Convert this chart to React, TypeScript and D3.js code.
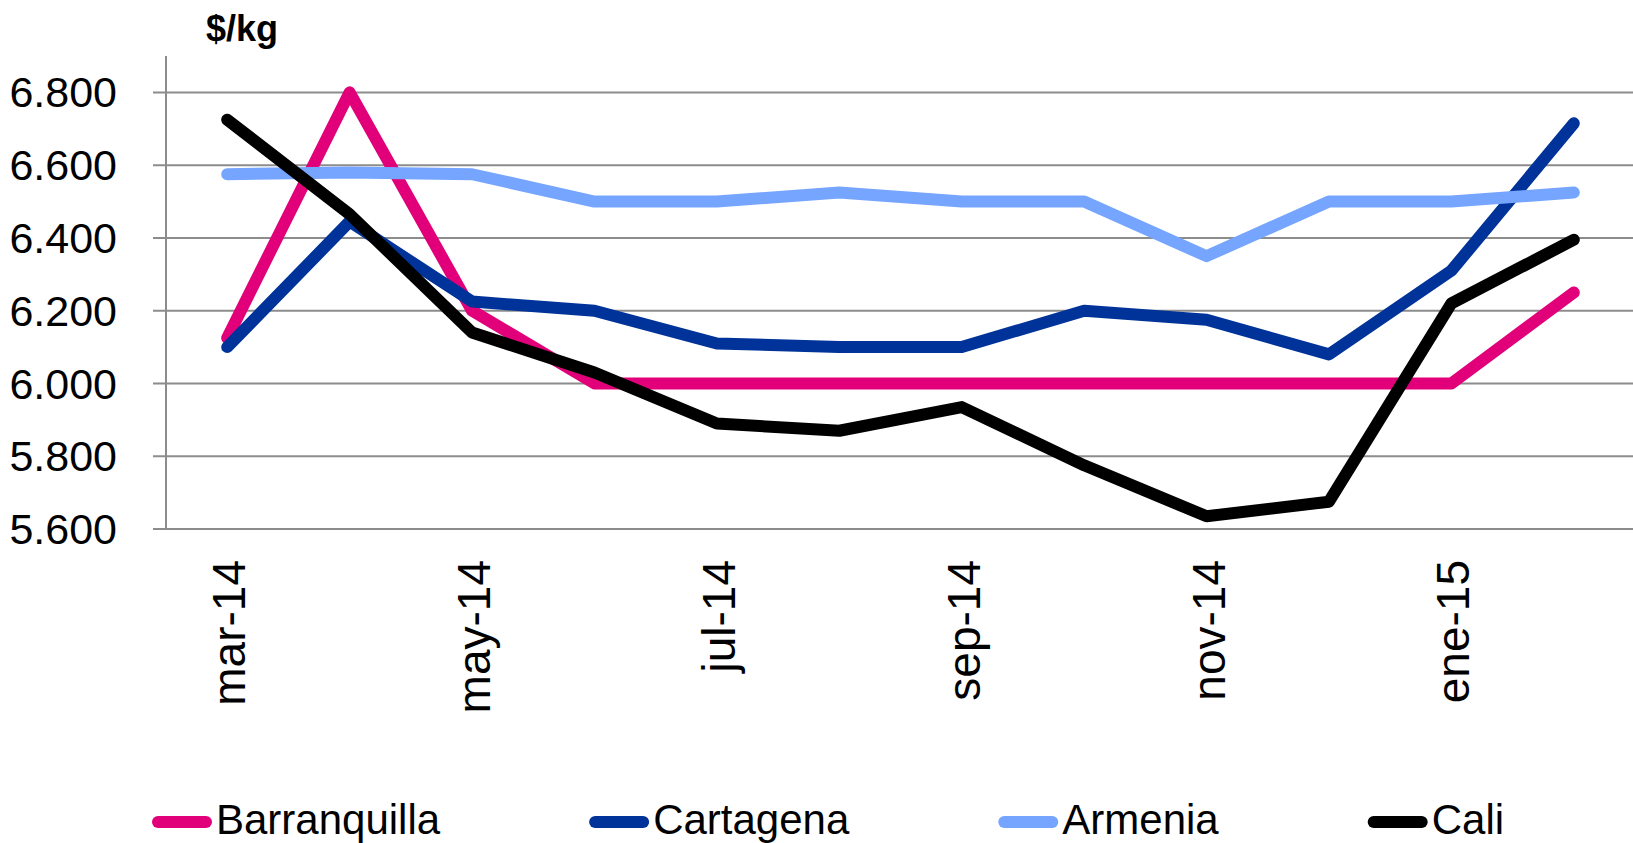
import React, { useEffect, useRef } from "react";
import * as d3 from "d3";

// monthly prices, $/kg
const months = ["mar-14", "abr-14", "may-14", "jun-14", "jul-14", "ago-14", "sep-14", "oct-14", "nov-14", "dic-14", "ene-15", "feb-15"];
const barranquilla = [6125, 6800, 6200, 6000, 6000, 6000, 6000, 6000, 6000, 6000, 6000, 6250];
const cartagena = [6100, 6445, 6225, 6200, 6110, 6100, 6100, 6200, 6175, 6080, 6310, 6715];
const armenia = [6575, 6580, 6575, 6500, 6500, 6525, 6500, 6500, 6350, 6500, 6500, 6525];
const cali = [6725, 6465, 6140, 6030, 5890, 5870, 5935, 5775, 5635, 5675, 6220, 6395];
const yTicks = [5600, 5800, 6000, 6200, 6400, 6600, 6800];

const seriesNames = ["Barranquilla", "Cartagena", "Armenia", "Cali"];
const seriesColors = ["#E2007A", "#003399", "#75A5FF", "#000000"];

const FONT = "'Liberation Sans', Arial, sans-serif";

const App = () => {
  const ref = useRef<SVGSVGElement>(null);

  useEffect(() => {
    const width = 1633;
    const height = 843;
    const left = 166, right = 1635, top = 56, bottom = 529;

    const svg = d3.select(ref.current).attr("width", width).attr("height", height);
    svg.selectAll("*").remove();

    const x = d3.scaleBand().domain(months).range([left, right]).padding(0);
    const y = d3.scaleLinear().domain([5600, 6900]).range([bottom, top]);
    const cx = (m) => x(m) + x.bandwidth() / 2;

    // gridlines + ticks
    svg.append("g")
      .selectAll("line")
      .data(yTicks)
      .enter()
      .append("line")
      .attr("x1", left - 13)
      .attr("x2", width)
      .attr("y1", (d) => y(d))
      .attr("y2", (d) => y(d))
      .style("stroke", "#8c8c8c")
      .style("stroke-width", 2);

    // y axis line
    svg.append("line")
      .attr("x1", left).attr("x2", left)
      .attr("y1", top).attr("y2", bottom)
      .style("stroke", "#8c8c8c")
      .style("stroke-width", 2);

    // y labels
    svg.append("g")
      .selectAll("text")
      .data(yTicks)
      .enter()
      .append("text")
      .attr("x", 117)
      .attr("y", (d) => y(d))
      .attr("dy", "0.35em")
      .attr("text-anchor", "end")
      .style("font-family", FONT)
      .style("font-size", "43px")
      .text((d) => d3.format(",.3f")(d / 1000));

    // unit
    svg.append("text")
      .attr("x", 206)
      .attr("y", 41)
      .style("font-family", FONT)
      .style("font-size", "36px")
      .style("font-weight", "bold")
      .text("$/kg");

    // x labels, every second month
    svg.append("g")
      .selectAll("text")
      .data(months.filter((m, i) => i % 2 === 0))
      .enter()
      .append("text")
      .attr("transform", (d) => `translate(${cx(d) + 18},560) rotate(-90)`)
      .attr("text-anchor", "end")
      .style("font-family", FONT)
      .style("font-size", "46px")
      .text((d) => d);

    // lines
    const allSeries = [barranquilla, cartagena, armenia, cali];
    const line = d3.line<number>()
      .x((d, i) => cx(months[i]))
      .y((d) => y(d));

    svg.append("g")
      .selectAll("path")
      .data(allSeries)
      .enter()
      .append("path")
      .attr("d", (d) => line(d))
      .style("fill", "none")
      .style("stroke", (d, i) => seriesColors[i])
      .style("stroke-width", 12)
      .style("stroke-linecap", "round")
      .style("stroke-linejoin", "round");

    // legend
    const legend = svg.append("g");
    let lx = 152;
    seriesNames.forEach((name, i) => {
      legend.append("line")
        .attr("x1", lx + 6).attr("x2", lx + 54)
        .attr("y1", 822).attr("y2", 822)
        .style("stroke", seriesColors[i])
        .style("stroke-width", 12)
        .style("stroke-linecap", "round");
      const t = legend.append("text")
        .attr("x", lx + 64)
        .attr("y", 834)
        .style("font-family", FONT)
        .style("font-size", "42px")
        .text(name);
      const w = (t.node() as SVGTextElement).getComputedTextLength();
      lx = lx + 64 + w + 149;
    });
  }, []);

  return <svg ref={ref} style={{ position: "absolute", left: 0, top: 0 }}></svg>;
};

export default App;
